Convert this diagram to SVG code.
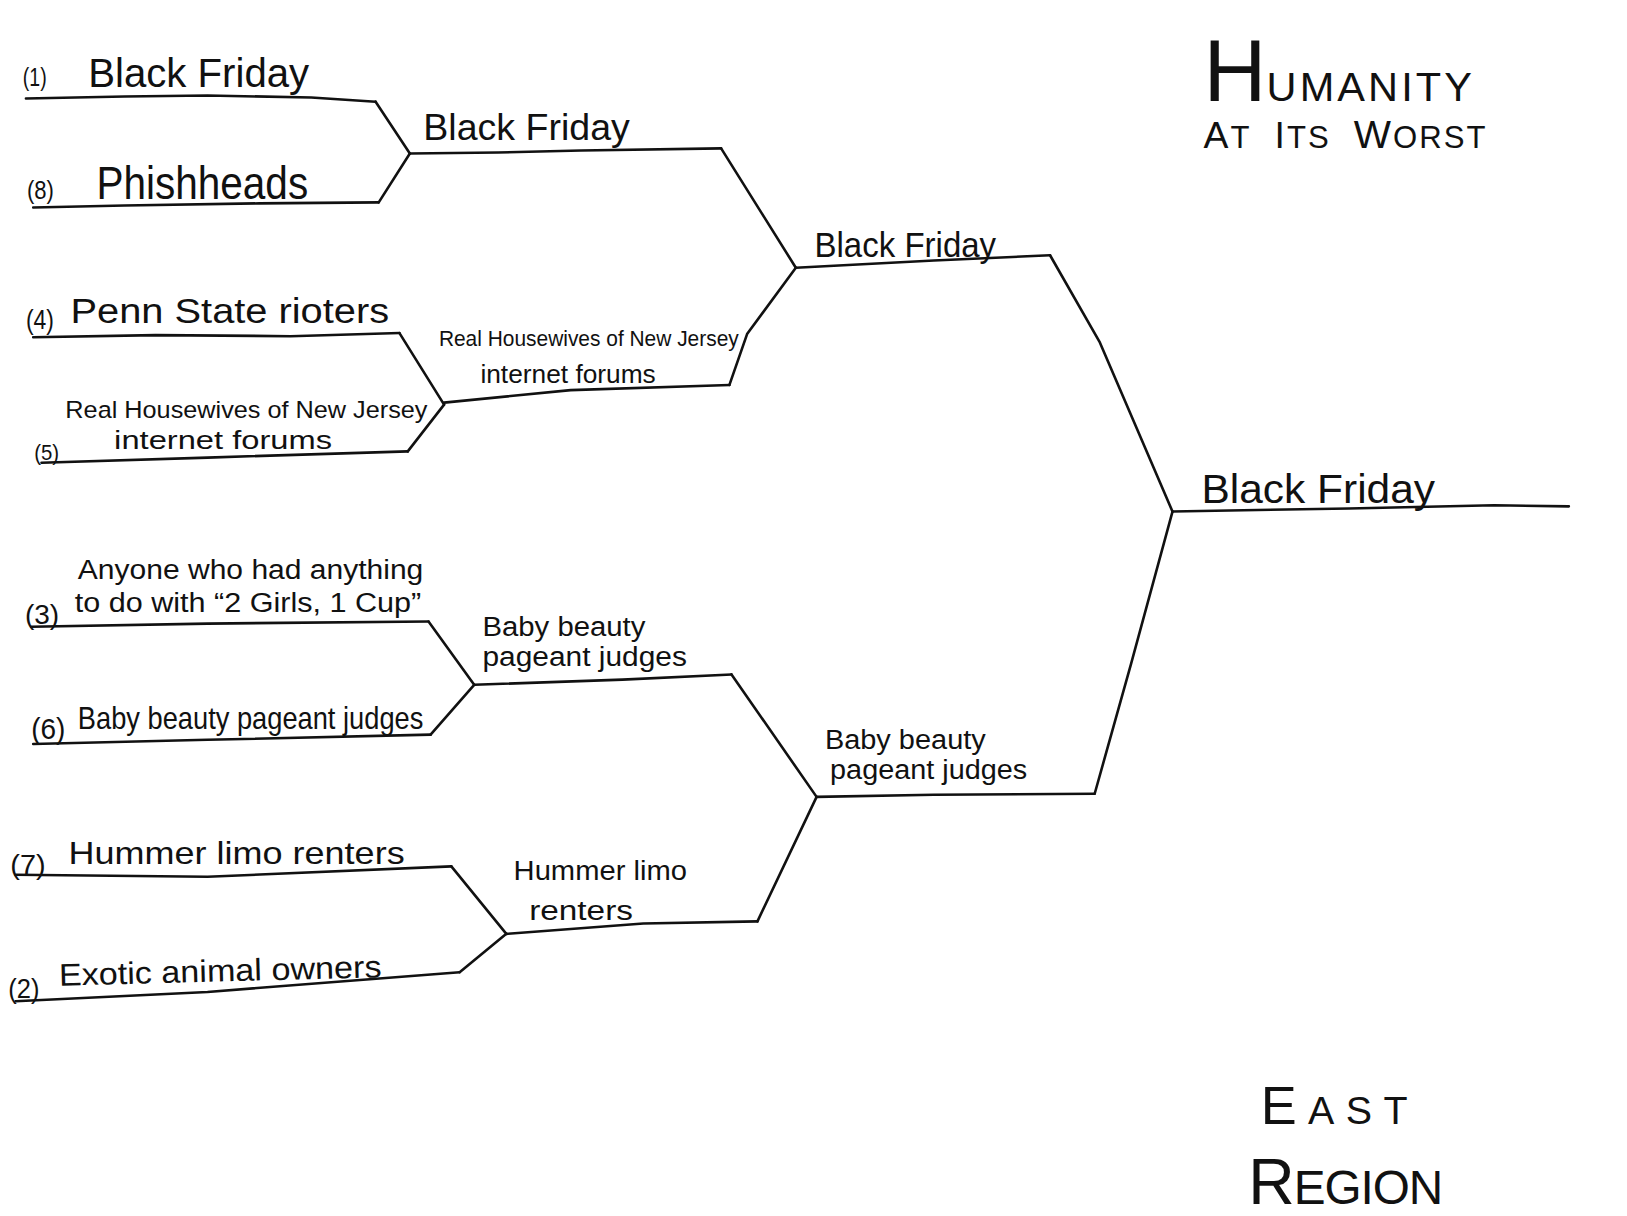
<svg xmlns="http://www.w3.org/2000/svg" width="1627" height="1216" viewBox="0 0 1627 1216">
<style>
.ln{fill:none;stroke:#111;stroke-width:2.5;stroke-linecap:round;stroke-linejoin:round}
text{font-family:"Liberation Sans","DejaVu Sans",sans-serif;fill:#111}
.sd{font-size:24px}
.t{font-size:26px}
</style>
<rect width="1627" height="1216" fill="#fff"/>
<g transform="scale(1.0376)">
<g id="seed1">
<text class="sd" x="22" y="83" textLength="23" lengthAdjust="spacingAndGlyphs">(1)</text>
<text x="85" y="84" font-size="40" textLength="213" lengthAdjust="spacingAndGlyphs">Black Friday</text>
<path class="ln" d="M25,95 L120,93 L200,92 L300,94 L362,98"/>
</g>
<g id="seed8">
<text class="sd" x="26" y="192" textLength="26" lengthAdjust="spacingAndGlyphs">(8)</text>
<text x="93" y="192" font-size="44" textLength="204" lengthAdjust="spacingAndGlyphs">Phishheads</text>
<path class="ln" d="M32,200 L120,198 L250,196 L365,195"/>
</g>
<g id="r2-bf">
<text x="408" y="135" font-size="36" textLength="199" lengthAdjust="spacingAndGlyphs">Black Friday</text>
<path class="ln" d="M395,148 L480,147 L560,145 L695,143"/>
</g>
<g id="seed4">
<text class="t" x="25" y="317" textLength="27" lengthAdjust="spacingAndGlyphs">(4)</text>
<text x="68" y="311" font-size="34" textLength="307" lengthAdjust="spacingAndGlyphs">Penn State rioters</text>
<path class="ln" d="M32,325 L150,323 L280,324 L385,321"/>
</g>
<g id="seed5">
<text x="63" y="403" font-size="23" textLength="349" lengthAdjust="spacingAndGlyphs">Real Housewives of New Jersey</text>
<text x="33" y="443" font-size="22" textLength="24" lengthAdjust="spacingAndGlyphs">(5)</text>
<text x="110" y="433" font-size="24" textLength="210" lengthAdjust="spacingAndGlyphs">internet forums</text>
<path class="ln" d="M40,446 L200,441 L393,435"/>
</g>
<g id="r2-rh">
<text x="423" y="333" font-size="21" textLength="289" lengthAdjust="spacingAndGlyphs">Real Housewives of New Jersey</text>
<text x="463" y="369" font-size="24" textLength="169" lengthAdjust="spacingAndGlyphs">internet forums</text>
<path class="ln" d="M428,388 L550,376 L703,371"/>
</g>
<g id="r3-bf">
<text x="785" y="248" font-size="33" textLength="175" lengthAdjust="spacingAndGlyphs">Black Friday</text>
<path class="ln" d="M767,258 L900,251 L1012,246"/>
</g>
<g id="final-bf">
<text x="1158" y="485" font-size="40" textLength="225" lengthAdjust="spacingAndGlyphs">Black Friday</text>
<path class="ln" d="M1130,493 L1300,490 L1440,487 L1512,488"/>
</g>
<g id="seed3">
<text class="t" x="75" y="558" textLength="333" lengthAdjust="spacingAndGlyphs">Anyone who had anything</text>
<text class="t" x="24" y="601" textLength="33" lengthAdjust="spacingAndGlyphs">(3)</text>
<text class="t" x="72" y="590" textLength="334" lengthAdjust="spacingAndGlyphs">to do with “2 Girls, 1 Cup”</text>
<path class="ln" d="M30,604 L200,601 L413,599"/>
</g>
<g id="seed6">
<text x="30" y="712" font-size="28" textLength="33" lengthAdjust="spacingAndGlyphs">(6)</text>
<text x="75" y="703" font-size="30" textLength="333" lengthAdjust="spacingAndGlyphs">Baby beauty pageant judges</text>
<path class="ln" d="M32,717 L200,713 L415,708"/>
</g>
<g id="r2-bb">
<text class="t" x="465" y="613" textLength="157" lengthAdjust="spacingAndGlyphs">Baby beauty</text>
<text class="t" x="465" y="642" textLength="197" lengthAdjust="spacingAndGlyphs">pageant judges</text>
<path class="ln" d="M457,660 L600,655 L705,650"/>
</g>
<g id="seed7">
<text class="t" x="10" y="842" textLength="34" lengthAdjust="spacingAndGlyphs">(7)</text>
<text x="66" y="833" font-size="30" textLength="324" lengthAdjust="spacingAndGlyphs">Hummer limo renters</text>
<path class="ln" d="M15,843 L200,845 L435,835"/>
</g>
<g id="seed2">
<text class="t" x="8" y="962" textLength="30" lengthAdjust="spacingAndGlyphs">(2)</text>
<text x="57" y="950" font-size="30" textLength="311" lengthAdjust="spacingAndGlyphs" transform="rotate(-1.5 57 950)">Exotic animal owners</text>
<path class="ln" d="M15,965 L200,956 L443,937"/>
</g>
<g id="r2-hl">
<text class="t" x="495" y="848" textLength="167" lengthAdjust="spacingAndGlyphs">Hummer limo</text>
<text class="t" x="510" y="887" textLength="100" lengthAdjust="spacingAndGlyphs">renters</text>
<path class="ln" d="M488,900 L620,890 L730,888"/>
</g>
<g id="r3-bb">
<text class="t" x="795" y="722" textLength="155" lengthAdjust="spacingAndGlyphs">Baby beauty</text>
<text class="t" x="800" y="751" textLength="190" lengthAdjust="spacingAndGlyphs">pageant judges</text>
<path class="ln" d="M787,768 L900,766 L1055,765"/>
</g>
<g id="connectors">
<path class="ln" d="M362,98 L395,148"/>
<path class="ln" d="M365,195 L395,148"/>
<path class="ln" d="M385,321 L428,390"/>
<path class="ln" d="M393,435 L428,390"/>
<path class="ln" d="M695,143 L767,258"/>
<path class="ln" d="M703,371 L720,322 L767,258"/>
<path class="ln" d="M1012,246 L1060,330 L1130,493"/>
<path class="ln" d="M1055,765 L1090,640 L1130,493"/>
<path class="ln" d="M413,599 L457,660"/>
<path class="ln" d="M415,708 L457,660"/>
<path class="ln" d="M705,650 L787,768"/>
<path class="ln" d="M435,835 L488,900"/>
<path class="ln" d="M443,937 L488,900"/>
<path class="ln" d="M730,888 L787,768"/>
</g>
<g id="title">
<text x="1160" y="97"><tspan font-size="84">H</tspan><tspan font-size="40" letter-spacing="3">UMANITY</tspan></text>
<text x="1160" y="143" font-size="30" letter-spacing="2"><tspan font-size="36">A</tspan>T<tspan dx="22" font-size="36">I</tspan>TS<tspan dx="22" font-size="38">W</tspan>ORST</text>
</g>
<g id="region">
<text x="1215" y="1083" letter-spacing="11"><tspan font-size="52">E</tspan><tspan font-size="38">AST</tspan></text>
<text x="1203" y="1160" letter-spacing="-1"><tspan font-size="62">R</tspan><tspan font-size="46">EGION</tspan></text>
</g>
</g>
</svg>
